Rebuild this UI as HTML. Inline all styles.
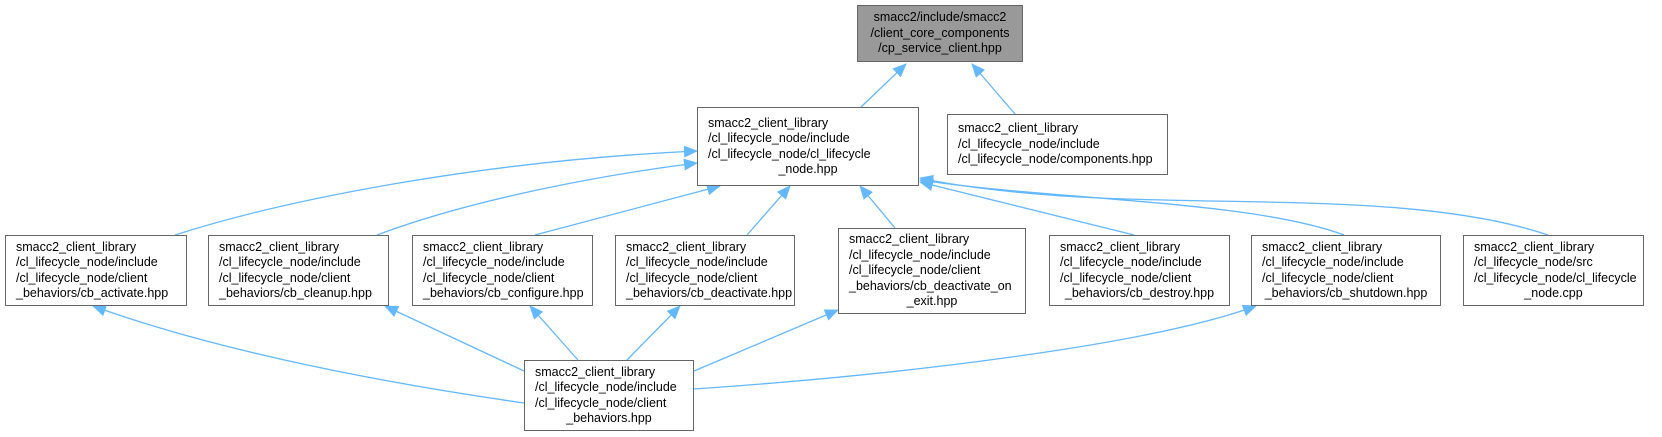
<!DOCTYPE html>
<html><head><meta charset="utf-8"><style>
html,body{margin:0;padding:0;background:#fff;}
body{width:1662px;height:437px;position:relative;overflow:hidden;font-family:"Liberation Sans",Arial,sans-serif;}
.n{position:absolute;box-sizing:border-box;border:1.5px solid #666;background:#fff;font-size:12.5px;line-height:15.5px;color:#000;padding:0 0 0 10px;display:flex;flex-direction:column;justify-content:center;white-space:nowrap;}
.n span.c{text-align:center;padding-right:10px;}
svg{position:absolute;left:0;top:0;}
</style></head><body>
<svg width="1662" height="437">
<defs><marker id="a" markerWidth="14" markerHeight="12" refX="13" refY="6" orient="auto" markerUnits="userSpaceOnUse"><path d="M0,0 L14,6 L0,12 z" fill="#63b8ff"/></marker></defs>
<g stroke="#63b8ff" stroke-width="1.3" fill="none" marker-end="url(#a)">
<path d="M861,107 L906,64"/>
<path d="M1015,114 L972,64"/>
<path d="M175,235 C300,195 500,160 697,151"/>
<path d="M377,235 C470,200 600,175 697,163"/>
<path d="M535,235 L720,186"/>
<path d="M747,235 L790,186"/>
<path d="M895,228 L860,186"/>
<path d="M1134,235 L920,182"/>
<path d="M1344,235 C1250,200 1050,200 920,180"/>
<path d="M1548,235 C1430,195 1250,205 1100,198 C1030,195 960,187 920,178"/>
<path d="M524,403 C350,378 200,345 93,306"/>
<path d="M524,371 L385,306"/>
<path d="M578,360 L530,306"/>
<path d="M627,360 L680,306"/>
<path d="M694,371 L838,310"/>
<path d="M694,389 C900,375 1150,345 1256,306"/>
</g>
</svg>
<div class="n" style="left:857px;top:5px;width:166px;height:57px;background:#999;padding:0;"><span class="c" style="padding:0">smacc2/include/smacc2<br>/client_core_components<br>/cp_service_client.hpp</span></div>
<div class="n" style="left:697px;top:107px;width:222px;height:79px;">smacc2_client_library<br>/cl_lifecycle_node/include<br>/cl_lifecycle_node/cl_lifecycle<br><span class="c">_node.hpp</span></div>
<div class="n" style="left:947px;top:114px;width:221px;height:61px;">smacc2_client_library<br>/cl_lifecycle_node/include<br>/cl_lifecycle_node/components.hpp</div>
<div class="n" style="left:5px;top:235px;width:182px;height:71px;">smacc2_client_library<br>/cl_lifecycle_node/include<br>/cl_lifecycle_node/client<br>_behaviors/cb_activate.hpp</div>
<div class="n" style="left:208px;top:235px;width:181px;height:71px;">smacc2_client_library<br>/cl_lifecycle_node/include<br>/cl_lifecycle_node/client<br>_behaviors/cb_cleanup.hpp</div>
<div class="n" style="left:412px;top:235px;width:181px;height:71px;">smacc2_client_library<br>/cl_lifecycle_node/include<br>/cl_lifecycle_node/client<br>_behaviors/cb_configure.hpp</div>
<div class="n" style="left:615px;top:235px;width:180px;height:71px;">smacc2_client_library<br>/cl_lifecycle_node/include<br>/cl_lifecycle_node/client<br>_behaviors/cb_deactivate.hpp</div>
<div class="n" style="left:838px;top:228px;width:188px;height:86px;">smacc2_client_library<br>/cl_lifecycle_node/include<br>/cl_lifecycle_node/client<br>_behaviors/cb_deactivate_on<br><span class="c">_exit.hpp</span></div>
<div class="n" style="left:1049px;top:235px;width:181px;height:71px;">smacc2_client_library<br>/cl_lifecycle_node/include<br>/cl_lifecycle_node/client<br><span class="c">_behaviors/cb_destroy.hpp</span></div>
<div class="n" style="left:1251px;top:235px;width:190px;height:71px;">smacc2_client_library<br>/cl_lifecycle_node/include<br>/cl_lifecycle_node/client<br><span class="c">_behaviors/cb_shutdown.hpp</span></div>
<div class="n" style="left:1463px;top:235px;width:181px;height:71px;">smacc2_client_library<br>/cl_lifecycle_node/src<br>/cl_lifecycle_node/cl_lifecycle<br><span class="c">_node.cpp</span></div>
<div class="n" style="left:524px;top:360px;width:170px;height:71px;">smacc2_client_library<br>/cl_lifecycle_node/include<br>/cl_lifecycle_node/client<br><span class="c">_behaviors.hpp</span></div>
</body></html>
